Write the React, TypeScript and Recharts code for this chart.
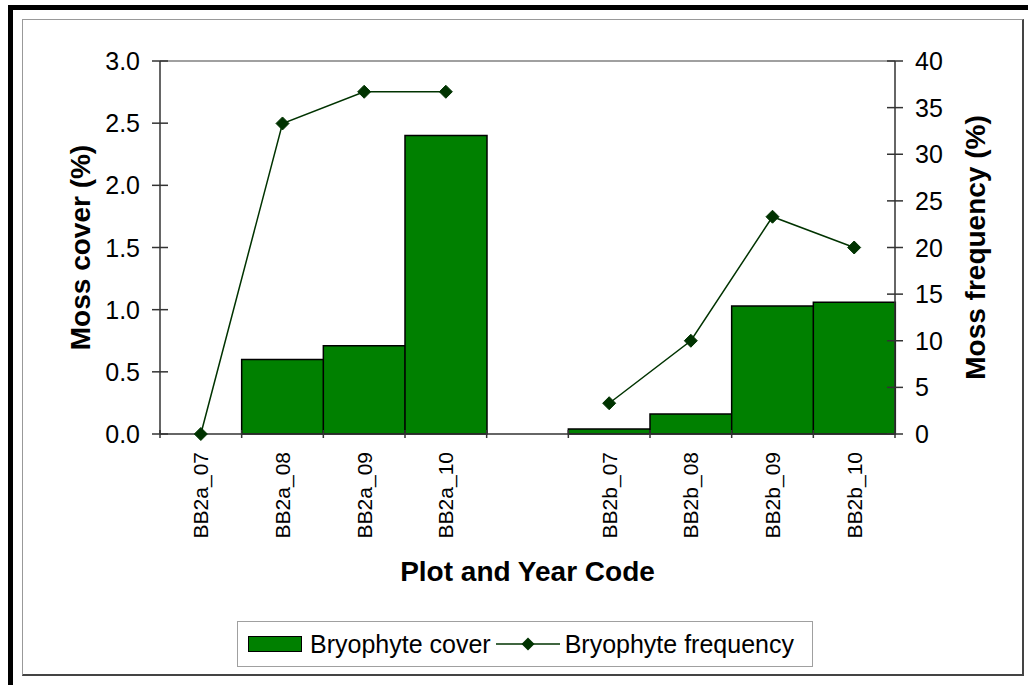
import React from "react";
import { ComposedChart, Bar, Line, XAxis, YAxis, ReferenceLine } from "recharts";

// plot and year codes, with one empty slot between the two plots
const categories = ["BB2a_07", "BB2a_08", "BB2a_09", "BB2a_10", "", "BB2b_07", "BB2b_08", "BB2b_09", "BB2b_10"];
const coverValues = [0, 0.6, 0.71, 2.4, null, 0.04, 0.16, 1.03, 1.06];
const freqValues = [0, 33.3, 36.7, 36.7, null, 3.3, 10, 23.3, 20];
const coverTicks = [0, 0.5, 1, 1.5, 2, 2.5, 3];
const freqTicks = [0, 5, 10, 15, 20, 25, 30, 35, 40];

const data = categories.map((name, i) => ({ name, cover: coverValues[i], freq: freqValues[i] }));

const FONT = "'Liberation Sans', Arial, sans-serif";
const AXIS = "#333";
const BAR_GREEN = "#008000";
const LINE_GREEN = "#003300";
const W = 1028;
const H = 685;
const LEFT_W = 160;
const RIGHT_W = 133;
const BAND = (W - LEFT_W - RIGHT_W) / categories.length;

const LeftTick = (props: any) => {
  const { x, y, payload } = props;
  const ax = x + 20;
  return (
    <g>
      <line x1={ax - 8} x2={ax + 8} y1={y} y2={y} stroke={AXIS} strokeWidth={1.5} />
      <text x={x} y={y} dy="0.36em" textAnchor="end" fontSize={25} fontFamily={FONT} fill="#000">
        {Number(payload.value).toFixed(1)}
      </text>
    </g>
  );
};

const RightTick = (props: any) => {
  const { x, y, payload } = props;
  const ax = x - 20;
  return (
    <g>
      <line x1={ax - 8} x2={ax + 8} y1={y} y2={y} stroke={AXIS} strokeWidth={1.5} />
      <text x={x} y={y} dy="0.36em" textAnchor="start" fontSize={25} fontFamily={FONT} fill="#000">
        {payload.value}
      </text>
    </g>
  );
};

const XTick = (props: any) => {
  const { x, y, payload, index } = props;
  const ay = y - 18;
  const left = x - BAND / 2;
  const right = x + BAND / 2;
  return (
    <g>
      <line x1={left} x2={left} y1={ay - 4} y2={ay + 4} stroke={AXIS} strokeWidth={1.5} />
      {index === categories.length - 1 && (
        <line x1={right} x2={right} y1={ay - 4} y2={ay + 4} stroke={AXIS} strokeWidth={1.5} />
      )}
      {payload.value && (
        <text
          transform={`translate(${x},${y}) rotate(-90)`}
          dy="0.36em"
          textAnchor="end"
          fontSize={21}
          fontFamily={FONT}
          fill="#000"
        >
          {payload.value}
        </text>
      )}
    </g>
  );
};

const Diamond = (props: any) => {
  const { cx, cy, key } = props;
  if (cx == null || cy == null || isNaN(cy)) return <g key={key} />;
  const r = 6.5;
  return (
    <path
      key={key}
      d={`M${cx},${cy - r}L${cx + r},${cy}L${cx},${cy + r}L${cx - r},${cy}Z`}
      fill={LINE_GREEN}
      stroke={LINE_GREEN}
    />
  );
};

const titleStyle = { fontSize: 28, fontWeight: "bold" as const, fontFamily: FONT, fill: "#000" };

const LeftTitle = (props: any) => {
  const { viewBox } = props;
  const cx = viewBox.x + 80;
  const cy = viewBox.y + viewBox.height / 2;
  return (
    <text transform={`translate(${cx},${cy}) rotate(-90)`} textAnchor="middle" dy="0.36em" {...titleStyle}>
      Moss cover (%)
    </text>
  );
};

const RightTitle = (props: any) => {
  const { viewBox } = props;
  const cx = viewBox.x + 80;
  const cy = viewBox.y + viewBox.height / 2;
  return (
    <text transform={`translate(${cx},${cy}) rotate(-90)`} textAnchor="middle" dy="0.36em" {...titleStyle}>
      Moss frequency (%)
    </text>
  );
};

const XTitle = (props: any) => {
  const { viewBox } = props;
  return (
    <text x={viewBox.x + viewBox.width / 2} y={viewBox.y + 147} textAnchor="middle" {...titleStyle}>
      Plot and Year Code
    </text>
  );
};

function LegendBox() {
  return (
    <div
      style={{
        position: "absolute",
        left: 237,
        top: 621,
        width: 574,
        height: 44,
        border: "1px solid #a0a0a0",
        display: "flex",
        alignItems: "center",
        fontFamily: FONT,
        fontSize: 25,
        color: "#000",
        whiteSpace: "nowrap",
      }}
    >
      <div style={{ width: 52, height: 14, background: BAR_GREEN, border: "1.5px solid #000", marginLeft: 10 }} />
      <span style={{ marginLeft: 8 }}>Bryophyte cover</span>
      <svg width={64} height={20} style={{ marginLeft: 5 }}>
        <line x1={0} x2={64} y1={10} y2={10} stroke={LINE_GREEN} strokeWidth={1.5} />
        <path d="M32,3.5L38.5,10L32,16.5L25.5,10Z" fill={LINE_GREEN} />
      </svg>
      <span style={{ marginLeft: 5 }}>Bryophyte frequency</span>
    </div>
  );
}

export default function App() {
  return (
    <div style={{ position: "absolute", left: 0, top: 0, width: W, height: H, background: "#fff", overflow: "hidden" }}>
      <div style={{ position: "absolute", left: 8, top: 5, width: W - 8, height: 5, background: "#000" }} />
      <div style={{ position: "absolute", left: 8, top: 5, width: 5, height: H - 5, background: "#000" }} />
      <div
        style={{
          position: "absolute",
          left: 22,
          top: 19,
          width: 999,
          height: 654,
          borderLeft: "1px solid #999",
          borderTop: "1px solid #999",
          borderRight: "2px solid #444",
          borderBottom: "2px solid #444",
        }}
      />
      <div style={{ position: "absolute", left: 0, top: 0 }}>
        <ComposedChart
          width={W}
          height={H}
          data={data}
          margin={{ top: 61, right: 0, bottom: 91, left: 0 }}
          barCategoryGap={0}
          barGap={0}
        >
          <XAxis
            dataKey="name"
            xAxisId="x"
            height={160}
            interval={0}
            tickLine={false}
            tickSize={0}
            tickMargin={18}
            tick={<XTick />}
            axisLine={{ stroke: AXIS, strokeWidth: 1.5 }}
            label={XTitle}
          />
          <YAxis
            yAxisId="left"
            orientation="left"
            width={LEFT_W}
            domain={[0, 3]}
            ticks={coverTicks}
            interval={0}
            tickLine={false}
            tickSize={0}
            tickMargin={20}
            tick={<LeftTick />}
            axisLine={{ stroke: AXIS, strokeWidth: 1.5 }}
            label={LeftTitle}
          />
          <YAxis
            yAxisId="right"
            orientation="right"
            width={RIGHT_W}
            domain={[0, 40]}
            ticks={freqTicks}
            interval={0}
            tickLine={false}
            tickSize={0}
            tickMargin={20}
            tick={<RightTick />}
            axisLine={{ stroke: AXIS, strokeWidth: 1.5 }}
            label={RightTitle}
          />
          <ReferenceLine xAxisId="x" yAxisId="left" y={3} stroke="#808080" strokeWidth={1.5} />
          <Bar
            xAxisId="x"
            yAxisId="left"
            dataKey="cover"
            fill={BAR_GREEN}
            stroke="#000"
            strokeWidth={1.5}
            isAnimationActive={false}
          />
          <Line
            xAxisId="x"
            yAxisId="right"
            dataKey="freq"
            stroke={LINE_GREEN}
            strokeWidth={1.5}
            dot={Diamond}
            activeDot={false}
            connectNulls={false}
            isAnimationActive={false}
          />
        </ComposedChart>
      </div>
      <LegendBox />
    </div>
  );
}
